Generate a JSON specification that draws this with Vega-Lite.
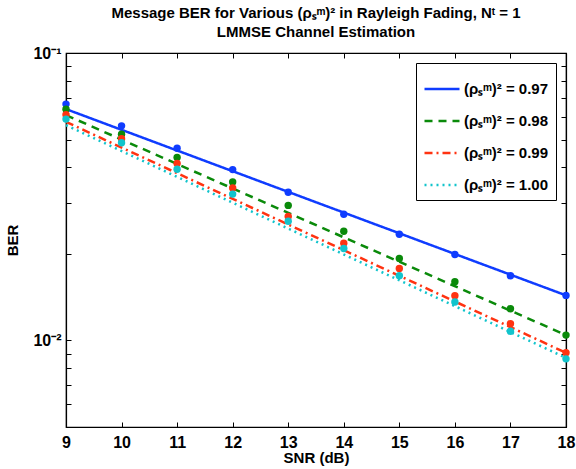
{
  "$schema": "https://vega.github.io/schema/vega-lite/v6.json",
  "width": 500,
  "height": 374,
  "autosize": {"type": "none"},
  "padding": {"left": 66, "top": 53, "right": 10, "bottom": 42},
  "background": "white",
  "config": {
    "view": {"stroke": "black", "strokeWidth": 1.2},
    "font": "Liberation Sans",
    "axis": {
      "labelFont": "Liberation Sans", "labelFontWeight": "bold", "labelFontSize": 16, "labelColor": "black",
      "titleFont": "Liberation Sans", "titleFontWeight": "bold", "titleFontSize": 15, "titleColor": "black",
      "domainColor": "black", "domainWidth": 1.2, "tickColor": "black", "tickWidth": 1, "grid": false
    }
  },
  "title": {
    "text": ["Message BER for Various (ρₛᵐ)² in Rayleigh Fading, Nᵗ = 1", "LMMSE Channel Estimation"],
    "font": "Liberation Sans", "fontSize": 15, "fontWeight": "bold", "color": "black",
    "anchor": "middle", "offset": 5, "lineHeight": 19
  },
  "datasets": {
    "theory": [
      {"snr": 9, "ber": 0.0638, "series": "(ρₛᵐ)² = 0.97"},
      {"snr": 18, "ber": 0.01435, "series": "(ρₛᵐ)² = 0.97"},
      {"snr": 9, "ber": 0.0608, "series": "(ρₛᵐ)² = 0.98"},
      {"snr": 18, "ber": 0.01044, "series": "(ρₛᵐ)² = 0.98"},
      {"snr": 9, "ber": 0.0576, "series": "(ρₛᵐ)² = 0.99"},
      {"snr": 18, "ber": 0.00906, "series": "(ρₛᵐ)² = 0.99"},
      {"snr": 9, "ber": 0.0561, "series": "(ρₛᵐ)² = 1.00"},
      {"snr": 18, "ber": 0.0087, "series": "(ρₛᵐ)² = 1.00"}
    ],
    "sim": [
      {"snr": 9, "ber": 0.0664, "series": "(ρₛᵐ)² = 0.97"},
      {"snr": 10, "ber": 0.0558, "series": "(ρₛᵐ)² = 0.97"},
      {"snr": 11, "ber": 0.0466, "series": "(ρₛᵐ)² = 0.97"},
      {"snr": 12, "ber": 0.0393, "series": "(ρₛᵐ)² = 0.97"},
      {"snr": 13, "ber": 0.0328, "series": "(ρₛᵐ)² = 0.97"},
      {"snr": 14, "ber": 0.0275, "series": "(ρₛᵐ)² = 0.97"},
      {"snr": 15, "ber": 0.0234, "series": "(ρₛᵐ)² = 0.97"},
      {"snr": 16, "ber": 0.0199, "series": "(ρₛᵐ)² = 0.97"},
      {"snr": 17, "ber": 0.0168, "series": "(ρₛᵐ)² = 0.97"},
      {"snr": 18, "ber": 0.01435, "series": "(ρₛᵐ)² = 0.97"},
      {"snr": 9, "ber": 0.0637, "series": "(ρₛᵐ)² = 0.98"},
      {"snr": 10, "ber": 0.0522, "series": "(ρₛᵐ)² = 0.98"},
      {"snr": 11, "ber": 0.0433, "series": "(ρₛᵐ)² = 0.98"},
      {"snr": 12, "ber": 0.0356, "series": "(ρₛᵐ)² = 0.98"},
      {"snr": 13, "ber": 0.0295, "series": "(ρₛᵐ)² = 0.98"},
      {"snr": 14, "ber": 0.024, "series": "(ρₛᵐ)² = 0.98"},
      {"snr": 15, "ber": 0.0193, "series": "(ρₛᵐ)² = 0.98"},
      {"snr": 16, "ber": 0.016, "series": "(ρₛᵐ)² = 0.98"},
      {"snr": 17, "ber": 0.0129, "series": "(ρₛᵐ)² = 0.98"},
      {"snr": 18, "ber": 0.01044, "series": "(ρₛᵐ)² = 0.98"},
      {"snr": 9, "ber": 0.061, "series": "(ρₛᵐ)² = 0.99"},
      {"snr": 10, "ber": 0.0503, "series": "(ρₛᵐ)² = 0.99"},
      {"snr": 11, "ber": 0.0413, "series": "(ρₛᵐ)² = 0.99"},
      {"snr": 12, "ber": 0.0339, "series": "(ρₛᵐ)² = 0.99"},
      {"snr": 13, "ber": 0.027, "series": "(ρₛᵐ)² = 0.99"},
      {"snr": 14, "ber": 0.0218, "series": "(ρₛᵐ)² = 0.99"},
      {"snr": 15, "ber": 0.0178, "series": "(ρₛᵐ)² = 0.99"},
      {"snr": 16, "ber": 0.0143, "series": "(ρₛᵐ)² = 0.99"},
      {"snr": 17, "ber": 0.01143, "series": "(ρₛᵐ)² = 0.99"},
      {"snr": 18, "ber": 0.00906, "series": "(ρₛᵐ)² = 0.99"},
      {"snr": 9, "ber": 0.0589, "series": "(ρₛᵐ)² = 1.00"},
      {"snr": 10, "ber": 0.0487, "series": "(ρₛᵐ)² = 1.00"},
      {"snr": 11, "ber": 0.0394, "series": "(ρₛᵐ)² = 1.00"},
      {"snr": 12, "ber": 0.0323, "series": "(ρₛᵐ)² = 1.00"},
      {"snr": 13, "ber": 0.026, "series": "(ρₛᵐ)² = 1.00"},
      {"snr": 14, "ber": 0.0209, "series": "(ρₛᵐ)² = 1.00"},
      {"snr": 15, "ber": 0.0168, "series": "(ρₛᵐ)² = 1.00"},
      {"snr": 16, "ber": 0.0136, "series": "(ρₛᵐ)² = 1.00"},
      {"snr": 17, "ber": 0.01077, "series": "(ρₛᵐ)² = 1.00"},
      {"snr": 18, "ber": 0.00863, "series": "(ρₛᵐ)² = 1.00"}
    ]
  },
  "layer": [
    {
      "data": {"name": "theory"},
      "mark": {"type": "line", "strokeWidth": 2.5, "clip": false},
      "encoding": {
        "x": {
          "field": "snr", "type": "quantitative",
          "scale": {"domain": [9, 18], "nice": false, "zero": false},
          "axis": {"orient": "bottom", "values": [9, 10, 11, 12, 13, 14, 15, 16, 17, 18], "tickSize": -5, "labelPadding": 12, "title": "SNR (dB)", "titlePadding": 0, "labelFlush": false}
        },
        "y": {
          "field": "ber", "type": "quantitative",
          "scale": {"type": "log", "domain": [0.005, 0.1], "nice": false},
          "axis": {
            "orient": "left",
            "values": [0.005, 0.006, 0.007, 0.008, 0.009, 0.01, 0.02, 0.03, 0.04, 0.05, 0.06, 0.07, 0.08, 0.09, 0.1],
            "labelExpr": "datum.value == 0.01 ? '10⁻²' : (datum.value == 0.1 ? '10⁻¹' : '')",
            "labelOverlap": false, "labelBound": false, "tickSize": -5, "labelPadding": 10,
            "title": "BER", "titlePadding": 12
          }
        },
        "color": {
          "field": "series", "type": "nominal",
          "scale": {"domain": ["(ρₛᵐ)² = 0.97", "(ρₛᵐ)² = 0.98", "(ρₛᵐ)² = 0.99", "(ρₛᵐ)² = 1.00"], "range": ["#0f3cff", "#0a8a0a", "#ff3311", "#12c4cc"]},
          "legend": {
            "orient": "top-right", "offset": 10, "title": null,
            "strokeColor": "black", "fillColor": "white", "padding": 7,
            "symbolType": "stroke", "symbolSize": 1225, "symbolStrokeWidth": 2.5,
            "labelFont": "Liberation Sans", "labelFontSize": 15, "labelFontWeight": "bold", "labelColor": "black",
            "rowPadding": 5, "labelOffset": 3
          }
        },
        "strokeDash": {
          "field": "series", "type": "nominal",
          "scale": {"domain": ["(ρₛᵐ)² = 0.97", "(ρₛᵐ)² = 0.98", "(ρₛᵐ)² = 0.99", "(ρₛᵐ)² = 1.00"], "range": [[1, 0], [8, 6], [8, 4, 2, 4], [2, 4]]}
        }
      }
    },
    {
      "data": {"name": "sim"},
      "mark": {"type": "circle", "size": 55, "opacity": 1, "clip": false},
      "encoding": {
        "x": {
          "field": "snr", "type": "quantitative",
          "axis": {"orient": "top", "values": [9, 10, 11, 12, 13, 14, 15, 16, 17, 18], "tickSize": -5, "labels": false, "title": null}
        },
        "y": {
          "field": "ber", "type": "quantitative",
          "axis": {"orient": "right", "values": [0.005, 0.006, 0.007, 0.008, 0.009, 0.01, 0.02, 0.03, 0.04, 0.05, 0.06, 0.07, 0.08, 0.09, 0.1], "tickSize": -5, "labels": false, "title": null}
        },
        "color": {"field": "series", "type": "nominal", "legend": null}
      }
    }
  ],
  "resolve": {"axis": {"x": "independent", "y": "independent"}}
}
